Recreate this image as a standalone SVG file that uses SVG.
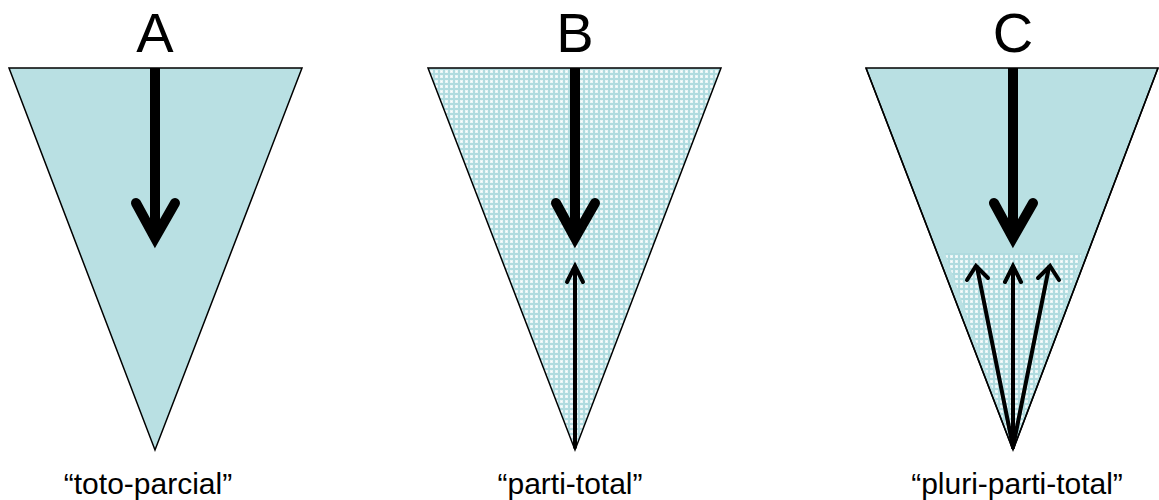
<svg xmlns="http://www.w3.org/2000/svg" width="1159" height="500" viewBox="0 0 1159 500">
  <style>
    .tri { stroke: #000; stroke-width: 1.5; stroke-linejoin: miter; }
    .solid { fill: #b9e0e3; }
    .dots { fill: url(#dotpat); }
    .thick { stroke: #000; stroke-width: 10; fill: none; stroke-linecap: round; stroke-linejoin: miter; }
    .thin { stroke: #000; stroke-width: 4; fill: none; stroke-linecap: round; stroke-linejoin: miter; }
    .shaft { stroke: #000; stroke-width: 10; fill: none; stroke-linecap: butt; }
    .letter { font-family: "Liberation Sans", Arial, sans-serif; font-size: 56px; fill: #000; text-anchor: middle; }
    .label { font-family: "Liberation Sans", Arial, sans-serif; font-size: 30px; fill: #000; text-anchor: middle; }
  </style>
  <defs>
    <pattern id="dotpat" width="5" height="5" patternUnits="userSpaceOnUse">
      <rect width="5" height="5" fill="#b0dbdf"/>
      <rect x="0" y="0" width="3" height="3" fill="#e8f5f6"/>
      <rect x="1" y="1" width="1" height="1" fill="#ffffff"/>
    </pattern>
  </defs>

  <g id="node-A">
    <text class="letter" x="155" y="52">A</text>
    <polygon class="tri solid" points="9,68 302,68 155,450"/>
    <line class="shaft" x1="155" y1="68" x2="155" y2="230"/>
    <polyline class="thick" points="136,203 155,238 175,203"/>
    <text class="label" x="148" y="494">“toto-parcial”</text>
  </g>

  <g id="node-B">
    <text class="letter" x="575" y="52">B</text>
    <polygon class="tri dots" points="428,68 721,68 575,450"/>
    <line class="shaft" x1="575" y1="68" x2="575" y2="230"/>
    <polyline class="thick" points="556,203 575,238 595,203"/>
    <text class="label" x="570" y="494">“parti-total”</text>
  </g>

  <g id="node-C">
    <text class="letter" x="1013" y="52">C</text>
    <polygon class="tri solid" points="866,68 1158,68 1013,450"/>
    <polygon class="dots" points="945,253 1082,253 1013,448"/>
    <line class="tri" x1="866" y1="68" x2="1013" y2="450" fill="none"/>
    <line class="tri" x1="1158" y1="68" x2="1013" y2="450" fill="none"/>
    <line class="shaft" x1="1013" y1="68" x2="1013" y2="230"/>
    <polyline class="thick" points="994,203 1013,238 1033,203"/>
    <text class="label" x="1017" y="494">“pluri-parti-total”</text>
  </g>

  <g id="connectors">
    <line class="thin" x1="575" y1="447" x2="575" y2="267"/>
    <polyline class="thin" points="567,282 575,266 583,282"/>
    <line class="thin" x1="1013" y1="447" x2="977" y2="267"/>
    <polyline class="thin" points="967,280 976,266 988,278"/>
    <line class="thin" x1="1013" y1="447" x2="1013" y2="267"/>
    <polyline class="thin" points="1005,282 1013,266 1021,282"/>
    <line class="thin" x1="1013" y1="447" x2="1049" y2="267"/>
    <polyline class="thin" points="1038,278 1050,266 1059,280"/>
  </g>
</svg>
